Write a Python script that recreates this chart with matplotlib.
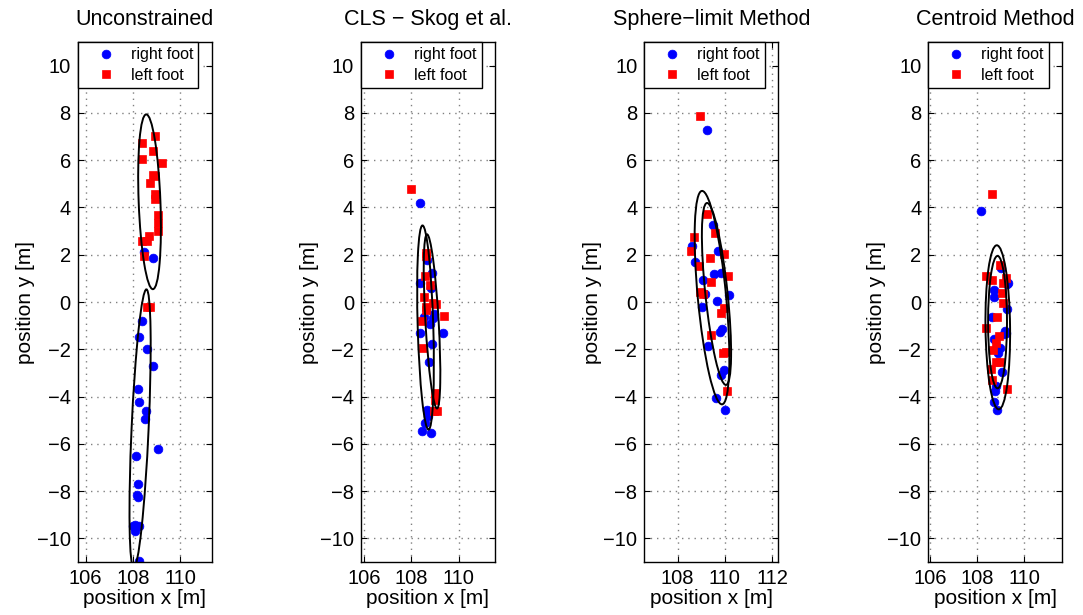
import numpy as np
import matplotlib
matplotlib.use("Agg")
import matplotlib.pyplot as plt
from matplotlib.patches import Ellipse

plt.rcParams['font.family'] = ['Liberation Sans', 'DejaVu Sans']

# titulos y limites de cada panel
titles = ["Unconstrained", "CLS \u2212 Skog et al.", "Sphere\u2212limit Method", "Centroid Method"]
xlims = [(105.66, 111.33), (105.87, 111.54), (106.59, 112.26), (105.93, 111.60)]
xticks_list = [[106, 108, 110], [106, 108, 110], [108, 110, 112], [106, 108, 110]]
yticks = np.arange(-10, 11, 2)

# --- Unconstrained ---
unc_right_x = [108.46, 108.86, 108.37, 108.25, 108.60, 108.84, 108.23, 108.26, 108.57, 108.49,
               109.04, 108.11, 108.20, 108.19, 108.20, 108.01, 108.10, 108.26, 108.10, 108.25]
unc_right_y = [2.13, 1.87, -0.82, -1.48, -2.00, -2.71, -3.66, -4.21, -4.62, -4.95,
               -6.21, -6.50, -7.69, -8.17, -8.24, -9.49, -9.42, -9.49, -9.70, -10.95]
unc_left_x = [108.92, 108.40, 108.84, 108.39, 109.24, 108.86, 108.91, 108.70, 108.94, 108.94,
              109.05, 109.04, 109.05, 108.69, 108.60, 108.40, 108.47, 108.60, 108.74]
unc_left_y = [7.03, 6.74, 6.40, 6.07, 5.89, 5.39, 5.33, 5.03, 4.55, 4.34,
              3.67, 3.36, 2.99, 2.81, 2.60, 2.58, 1.93, -0.23, -0.23]
# elipses: centro x, centro y, semieje menor, semieje mayor, angulo (grados)
unc_ellipses = [(108.70, 4.24, 0.46, 3.70, 2.2),
                (108.30, -5.36, 0.36, 5.90, -2.6)]

# --- CLS - Skog et al. ---
cls_right_x = [108.35, 108.68, 108.87, 108.35, 108.83, 108.54, 108.94, 108.93, 108.80, 108.38,
               109.33, 108.87, 108.75, 108.66, 108.70, 108.59, 108.44, 108.83]
cls_right_y = [4.20, 1.76, 1.24, 0.79, 0.61, -0.62, -0.49, -0.66, -0.94, -1.30,
               -1.30, -1.79, -2.54, -4.58, -4.82, -5.10, -5.46, -5.54]
cls_left_x = [108.00, 108.61, 108.63, 108.59, 108.80, 108.55, 108.62, 108.62, 108.92, 109.06,
              109.38, 108.47, 108.49, 109.02, 108.99, 109.09, 108.97]
cls_left_y = [4.78, 2.09, 1.95, 1.11, 0.71, 0.21, -0.21, -0.34, -0.04, -0.07,
              -0.58, -0.80, -1.93, -3.84, -4.15, -4.61, -4.62]
cls_ellipses = [(108.60, -1.08, 0.33, 4.32, 1.7),
                (108.875, -0.82, 0.28, 3.69, 3.3)]

# --- Sphere-limit Method ---
sph_right_x = [109.24, 109.51, 108.61, 109.71, 108.74, 109.55, 109.82, 109.06, 109.16, 110.17,
               109.67, 109.04, 109.88, 109.81, 109.29, 109.98, 109.84, 109.64, 110.00]
sph_right_y = [7.28, 3.27, 2.36, 2.17, 1.68, 1.20, 1.24, 0.94, 0.33, 0.31,
               0.04, -0.21, -1.16, -1.26, -1.85, -2.89, -3.09, -4.05, -4.57]
sph_left_x = [108.96, 109.24, 109.59, 108.71, 108.57, 109.96, 108.92, 109.37, 110.12, 109.41,
              108.95, 109.07, 109.96, 109.85, 109.43, 109.92, 110.05, 110.09]
sph_left_y = [7.85, 3.72, 2.92, 2.75, 2.16, 2.04, 1.52, 1.86, 1.10, 0.83,
              0.44, 0.35, -0.24, -0.45, -1.40, -2.14, -2.12, -3.76]
sph_ellipses = [(109.455, 0.185, 0.60, 4.535, 5.4),
                (109.645, 0.34, 0.47, 3.87, 6.0)]

# --- Centroid Method ---
cen_right_x = [108.14, 109.02, 109.31, 109.27, 108.71, 108.71, 109.24, 108.61, 109.17, 109.21,
               109.13, 108.71, 108.96, 108.89, 109.03, 108.79, 108.75, 108.71, 108.82]
cen_right_y = [3.85, 1.43, 0.82, 0.75, 0.49, 0.21, -0.31, -0.63, -1.23, -1.30,
               -1.37, -1.58, -1.96, -2.14, -2.96, -3.55, -3.76, -4.22, -4.58]
cen_left_x = [108.61, 108.37, 108.95, 108.63, 109.21, 109.10, 109.06, 109.10, 108.85, 108.37,
              108.91, 108.80, 108.65, 108.79, 108.96, 108.58, 108.63, 109.26]
cen_left_y = [4.55, 1.09, 1.55, 0.93, 1.03, 0.82, 0.39, -0.03, -0.63, -1.09,
              -1.42, -1.72, -2.03, -2.52, -2.52, -2.85, -3.31, -3.69]
cen_ellipses = [(108.87, -1.07, 0.52, 3.47, 0.7),
                (108.86, -0.85, 0.40, 2.80, 0.0)]

panels = [
    (unc_right_x, unc_right_y, unc_left_x, unc_left_y, unc_ellipses),
    (cls_right_x, cls_right_y, cls_left_x, cls_left_y, cls_ellipses),
    (sph_right_x, sph_right_y, sph_left_x, sph_left_y, sph_ellipses),
    (cen_right_x, cen_right_y, cen_left_x, cen_left_y, cen_ellipses),
]

W, H = 1083, 615
fig = plt.figure(figsize=(W / 100, H / 100), dpi=100)
lefts_px = [77.7, 361.0, 644.3, 928.3]

for i, (rx, ry, lx, ly, ells) in enumerate(panels):
    ax = fig.add_axes([lefts_px[i] / W, (H - 562) / H, 134 / W, 520 / H])
    for (cx, cy, b, a, ang) in ells:
        ax.add_patch(Ellipse((cx, cy), 2 * b, 2 * a, angle=ang, fill=False,
                             edgecolor='black', linewidth=1.4, zorder=3))
    ax.plot(rx, ry, 'o', color='blue', markersize=6.3, markeredgewidth=0.5,
            label='right foot', zorder=2)
    ax.plot(lx, ly, 's', color='red', markersize=5.4, markeredgewidth=0.5,
            label='left foot', zorder=2)
    ax.set_xlim(*xlims[i])
    ax.set_ylim(-11, 11)
    ax.set_xticks(xticks_list[i])
    ax.set_yticks(yticks)
    ax.grid(True, linestyle=(0, (1, 3.5)), color='0.5', linewidth=1.0)
    ax.tick_params(direction='in', top=True, right=True, length=4, width=0.8,
                   labelsize=14.5, pad=5)
    for s in ax.spines.values():
        s.set_linewidth(1.0)
    ax.set_title(titles[i], fontsize=15.5, pad=12)
    ax.set_xlabel('position x [m]', fontsize=15, labelpad=1)
    ax.set_ylabel('position y [m]', fontsize=15, labelpad=1)
    leg = ax.legend(loc='upper left', borderaxespad=0, fontsize=11.5, fancybox=False,
                    framealpha=1, edgecolor='black', borderpad=0.33, handlelength=2.85,
                    handletextpad=0.13, labelspacing=0.34)
    leg.get_frame().set_linewidth(1.0)

fig.savefig('out.png', dpi=100)
